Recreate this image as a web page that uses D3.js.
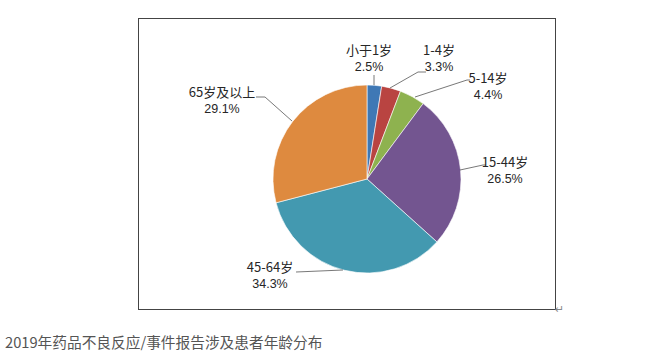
<!DOCTYPE html>
<html><head><meta charset="utf-8">
<script src="https://cdn.jsdelivr.net/npm/d3@7"></script>
<style>
html,body{margin:0;padding:0;background:#fff;}
svg{display:block;}
</style></head>
<body>
<svg id="chart" width="656" height="357"></svg>
<script>
const categories = ["小于1岁", "1-4岁", "5-14岁", "15-44岁", "45-64岁", "65岁及以上"];
const values = [2.5, 3.3, 4.4, 26.5, 34.3, 29.1];
const colors = ["#3f78b5", "#b94441", "#8eb24f", "#735590", "#4399b0", "#de8a3f"];
const title = "2019年药品不良反应/事件报告涉及患者年龄分布";

// label positions (label centre, two lines) and leader-line elbows
const labelPos = [
  {x: 369, y: 50, line: [[374, 85], [374, 75]]},
  {x: 439, y: 50, line: [[390, 88], [418, 72], [426, 72]]},
  {x: 488, y: 78, line: [[415, 97], [467, 80], [470, 80]]},
  {x: 505, y: 162, line: [[460, 170], [483, 165], [486, 165]]},
  {x: 270, y: 267, line: [[343, 270], [296, 272]]},
  {x: 222, y: 92, line: [[292, 121], [265, 97], [256, 97]]}
];

const svg = d3.select("#chart");
const cx = 367, cy = 179, r = 94;

// frame
svg.append("rect").attr("x", 138.5).attr("y", 18.5).attr("width", 417).attr("height", 291)
  .attr("fill", "none").attr("stroke", "#444").attr("stroke-width", 1);
svg.append("text").attr("x", 555).attr("y", 313).attr("font-size", 11).attr("fill", "#888")
  .attr("font-family", "DejaVu Sans").text("↵");

const pie = d3.pie().sort(null).value(d => d);
const arcs = pie(values);
const arc = d3.arc().innerRadius(0).outerRadius(r);

const g = svg.append("g").attr("transform", `translate(${cx},${cy})`);
g.selectAll("path").data(arcs).enter().append("path")
  .attr("d", arc)
  .attr("fill", (d, i) => colors[i])
  .attr("stroke", "#fff").attr("stroke-width", 0.6);

// leader lines
const line = d3.line();
svg.selectAll("path.leader").data(labelPos).enter().append("path")
  .attr("class", "leader")
  .attr("d", d => line(d.line))
  .attr("fill", "none").attr("stroke", "#555").attr("stroke-width", 0.8);

// labels
const font = "'Noto Sans CJK SC', 'Liberation Sans', sans-serif";
const lbl = svg.selectAll("g.lbl").data(categories).enter().append("g").attr("class", "lbl");
lbl.append("text")
  .attr("x", (d, i) => labelPos[i].x).attr("y", (d, i) => labelPos[i].y + 4.5)
  .attr("text-anchor", "middle").attr("font-family", font).attr("font-size", 13)
  .attr("fill", "#262626").text(d => d);
lbl.append("text")
  .attr("x", (d, i) => labelPos[i].x).attr("y", (d, i) => labelPos[i].y + 20.5)
  .attr("text-anchor", "middle").attr("font-family", "'Liberation Sans', sans-serif").attr("font-size", 12.5)
  .attr("fill", "#262626").text((d, i) => values[i].toFixed(1) + "%");

// caption
svg.append("text").attr("x", 5).attr("y", 348)
  .attr("font-family", font).attr("font-size", 14.7).attr("fill", "#555")
  .text(title);
</script>
</body></html>
